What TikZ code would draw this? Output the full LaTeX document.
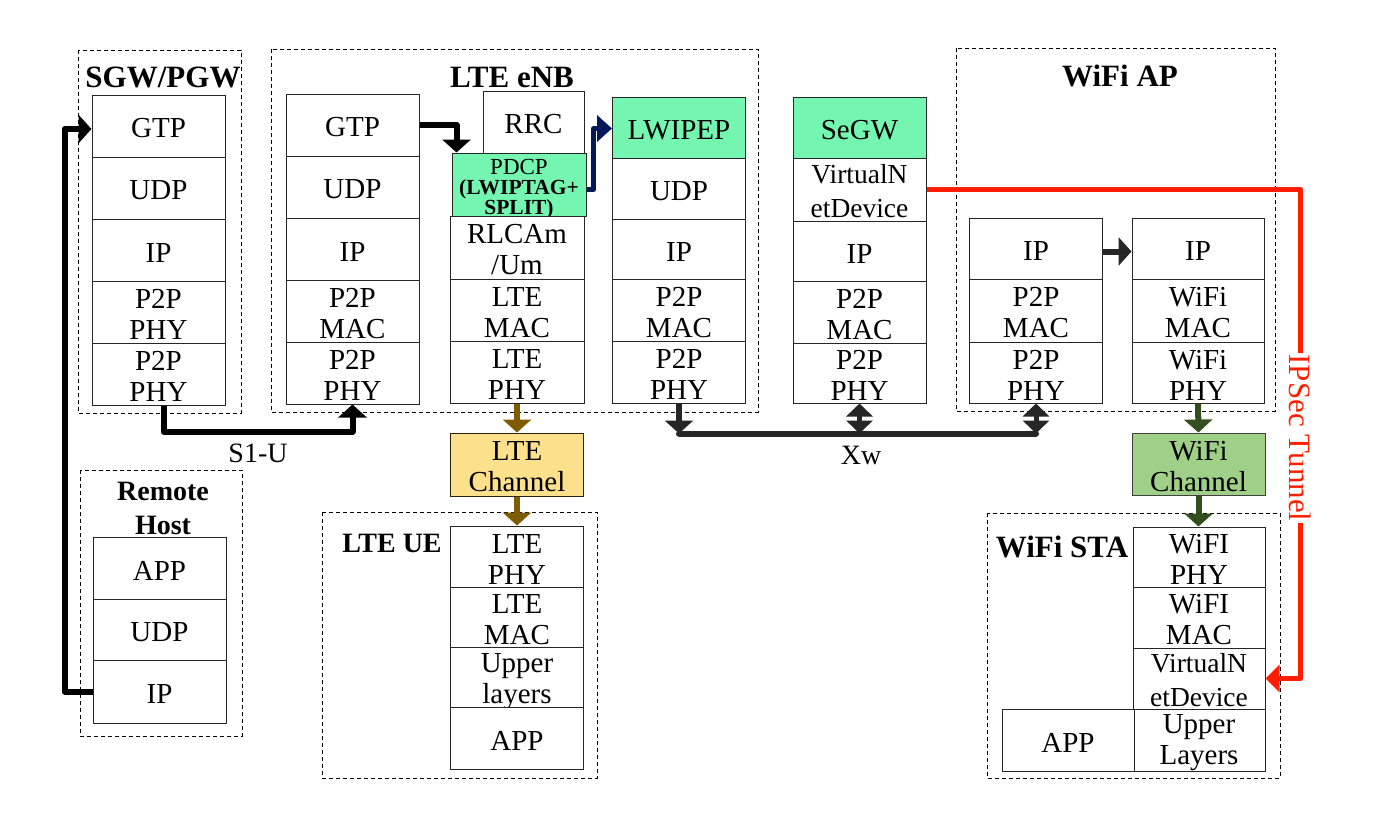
\documentclass[tikz,border=0pt]{standalone}
\usepackage{fontspec}
\setmainfont{Liberation Serif}
\usetikzlibrary{arrows.meta,calc}
\definecolor{mint}{RGB}{116,246,176}
\definecolor{lteyel}{RGB}{253,224,140}
\definecolor{wifigr}{RGB}{160,207,136}
\definecolor{ltebrown}{RGB}{127,92,0}
\definecolor{dkgreen}{RGB}{50,80,30}
\definecolor{navyblue}{RGB}{0,25,90}
\definecolor{tunnelred}{RGB}{255,30,0}
\definecolor{xwgray}{RGB}{38,38,38}
\newcommand\mycellfont{\fontsize{29}{31}\selectfont}
\newcommand\myttlfont{\fontsize{31}{34}\selectfont\bfseries}
\newcommand\mysmttlfont{\fontsize{28}{34}\selectfont\bfseries}
\newcommand\vndfont{\fontsize{27.5}{34}\selectfont}
% \cellnode[box options]{name}{x,y}{text}
\newcommand\cellnode[4][]{%
  \node[cell,#1] (#2) at (#3) {};
  \node[celltxt] (#2-t) at ([yshift=-2.5pt]#2.center) {#4};}
\begin{document}
\begin{tikzpicture}[x=1pt,y=-1pt,
  cell/.style={draw=black!85, line width=1pt, fill=white, minimum width=133pt,
    minimum height=62pt, inner sep=0pt},
  celltxt/.style={inner sep=0pt, align=center, font=\mycellfont},
  grp/.style={draw=black, line width=0.8pt, dash pattern=on 4pt off 3pt},
  ttl/.style={font=\myttlfont, inner sep=0pt, align=center},
  smttl/.style={font=\mysmttlfont, inner sep=0pt, align=center},
  lbl/.style={font=\fontsize{28}{30}\selectfont, inner sep=0pt},
  conn/.style={line width=6pt, line join=round, -{Triangle[length=13pt,width=28pt]}},
  dconn/.style={line width=5pt, {Triangle[length=13pt,width=26pt]}-{Triangle[length=13pt,width=26pt]}},
]
\useasboundingbox (0,0) rectangle (1373,820);

% group boxes
\draw[grp] (78,50) rectangle (241,413);
\draw[grp] (271,49) rectangle (758,412);
\draw[grp] (956,48) rectangle (1275,411);
\draw[grp] (80,470) rectangle (242,736);
\draw[grp] (322,512) rectangle (597,778);
\draw[grp] (987,513) rectangle (1280,778);

% titles
\node[ttl] (tSGW) at (163,77) {SGW/PGW};
\node[ttl] (tENB) at (512,77) {LTE eNB};
\node[ttl] (tAP) at (1120,76) {WiFi AP};
\node[smttl] (tRH) at (163,508) {Remote\\Host};
\node[smttl] (tUE) at (392,543) {LTE UE};
\node[ttl] (tSTA) at (1062,547) {WiFi STA};

% SGW/PGW stack
\cellnode{sgwGTP}{158.5,126}{GTP}
\cellnode{sgwUDP}{158.5,188}{UDP}
\cellnode{sgwIP}{158.5,250}{IP}
\cellnode{sgwL2}{158.5,312}{P2P\\PHY}
\cellnode{sgwL1}{158.5,374}{P2P\\PHY}

% eNB left stack
\cellnode{enbGTP}{352.5,125}{GTP}
\cellnode{enbUDP}{352.5,187}{UDP}
\cellnode{enbIP}{352.5,249}{IP}
\cellnode{enbL2}{352.5,311}{P2P\\MAC}
\cellnode{enbL1}{352.5,373}{P2P\\PHY}

% eNB LTE stack
\cellnode[minimum width=101pt]{rrc}{533.5,122}{RRC}
\node[cell, fill=mint, minimum width=134pt, minimum height=63pt] (pdcp) at (519,184.5) {};
\node[inner sep=0pt, align=center, font=\fontsize{23}{20}\selectfont] (pdcp-t) at (519,189)
  {PDCP\\{\fontsize{21.5}{20}\selectfont\bfseries (LWIPTAG+}\\{\fontsize{21.5}{20}\selectfont\bfseries SPLIT)}};
\cellnode[minimum width=134pt, minimum height=63pt]{rlc}{517,247.5}{RLCAm\\/Um}
\cellnode[minimum width=134pt]{rlcL2}{517,310}{LTE\\MAC}
\cellnode[minimum width=134pt]{rlcL1}{517,372}{LTE\\PHY}

% LWIPEP stack
\cellnode[fill=mint, minimum height=61pt]{lwipep}{679,127.5}{LWIPEP}
\cellnode[minimum height=61pt]{lwUDP}{679,188.5}{UDP}
\cellnode[minimum height=60pt]{lwIP}{679,249}{IP}
\cellnode{lwL2}{679,310}{P2P\\MAC}
\cellnode{lwL1}{679,372}{P2P\\PHY}

% SeGW stack
\cellnode[fill=mint, minimum height=61pt]{segw}{859.5,127.5}{SeGW}
\node[cell, minimum height=63pt] (segwVND) at (859.5,189.5) {};
\node[celltxt, font=\vndfont] (segwVND-t) at (859.5,191) {VirtualN\\etDevice};
\cellnode[minimum height=60pt]{segwIP}{859.5,251}{IP}
\cellnode{segwL2}{859.5,312}{P2P\\MAC}
\cellnode[minimum height=60pt]{segwL1}{859.5,373}{P2P\\PHY}

% WiFi AP stacks
\cellnode[minimum height=61pt]{apLIP}{1036,248.5}{IP}
\cellnode[minimum height=63pt]{apL2}{1036,310.5}{P2P\\MAC}
\cellnode[minimum height=61pt]{apL1}{1036,372.5}{P2P\\PHY}
\cellnode[minimum width=132pt, minimum height=61pt]{apRIP}{1198,248.5}{IP}
\cellnode[minimum width=132pt, minimum height=63pt]{apR2}{1198,310.5}{WiFi\\MAC}
\cellnode[minimum width=132pt, minimum height=61pt]{apR1}{1198,372.5}{WiFi\\PHY}

% Remote host stack
\cellnode{rhAPP}{159.5,568}{APP}
\cellnode[minimum height=61pt]{rhUDP}{159.5,629.5}{UDP}
\cellnode[minimum height=63pt]{rhIP}{159.5,691.5}{IP}

% channels
\cellnode[fill=lteyel, draw=black!75!brown, minimum height=63pt]{lteCh}{517,464.5}{LTE\\Channel}
\cellnode[fill=wifigr, draw=black!75]{wifiCh}{1198.5,464}{WiFi\\Channel}

% LTE UE stack
\cellnode[minimum height=61pt]{ue1}{517,556.5}{LTE\\PHY}
\cellnode[minimum height=60pt]{ue2}{517,617}{LTE\\MAC}
\node[cell, minimum height=60pt] (ue3) at (517,677) {};
\node[celltxt] (ue3-t) at (517,682) {Upper\\layers};
\cellnode{ue4}{517,738}{APP}

% WiFi STA stack
\cellnode[minimum width=132pt, minimum height=60pt]{sta1}{1199,557}{WiFI\\PHY}
\cellnode[minimum width=132pt, minimum height=61pt]{sta2}{1199,617.5}{WiFI\\MAC}
\node[cell, minimum width=132pt, minimum height=61pt] (staVND) at (1199,678.5) {};
\node[celltxt, font=\vndfont] (staVND-t) at (1199,680) {VirtualN\\etDevice};
\cellnode[minimum width=132pt]{sta4}{1199,740}{Upper\\Layers}
\cellnode[minimum width=132pt]{staAPP}{1068,740}{APP}

% connectors
\draw[conn] (rhIP.west) -- ++(-28,0) |- ([yshift=-3pt]sgwGTP.west);
\draw[conn] ([xshift=5pt]sgwL1.south) -- ++(0,26) -| (enbL1.south);
\node[lbl] (s1u) at (258,453) {S1-U};
\draw[conn] (enbGTP.east) -| ([xshift=5pt]pdcp.north west);
\draw[conn, navyblue, line width=4.5pt, -{Triangle[length=15pt,width=26pt]}] ([yshift=-5pt]pdcp.east) -- ++(7,0) |- ([yshift=-1pt]lwipep.west);

\coordinate (busL) at ($(lwL1.south)+(0,30)$);
\coordinate (busR) at ($(apL1.south)+(0,30)$);
\draw[xwgray, line width=6pt, line cap=round] (busL) -- (busR);
\draw[conn, xwgray] (lwL1.south) -- (busL);
\draw[dconn, xwgray] (segwL1.south) -- (segwL1.south |- busL);
\draw[dconn, xwgray] (apL1.south) -- (apL1.south |- busL);
\node[lbl] (xw) at (861,455) {Xw};

\draw[conn, xwgray] ([yshift=-3pt]apLIP.east) -- ([yshift=-3pt]apRIP.west);

\draw[conn, ltebrown] (rlcL1.south) -- (lteCh.north);
\draw[conn, ltebrown] (lteCh.south) -- (ue1.north);
\draw[conn, dkgreen] (apR1.south) -- (wifiCh.north);
\draw[conn, dkgreen] (wifiCh.south) -- (wifiCh.south |- sta1.north);

\draw[conn, tunnelred, line width=5.5pt, -{Triangle[length=14pt,width=27pt]}] (segwVND.east) -- ++(374,0) |- (staVND.east);
\node[rotate=-90, fill=white, text=tunnelred, font=\fontsize{31}{33}\selectfont, inner sep=2pt] (ipsec) at (1300,438) {IPSec Tunnel};
\end{tikzpicture}
\end{document}
